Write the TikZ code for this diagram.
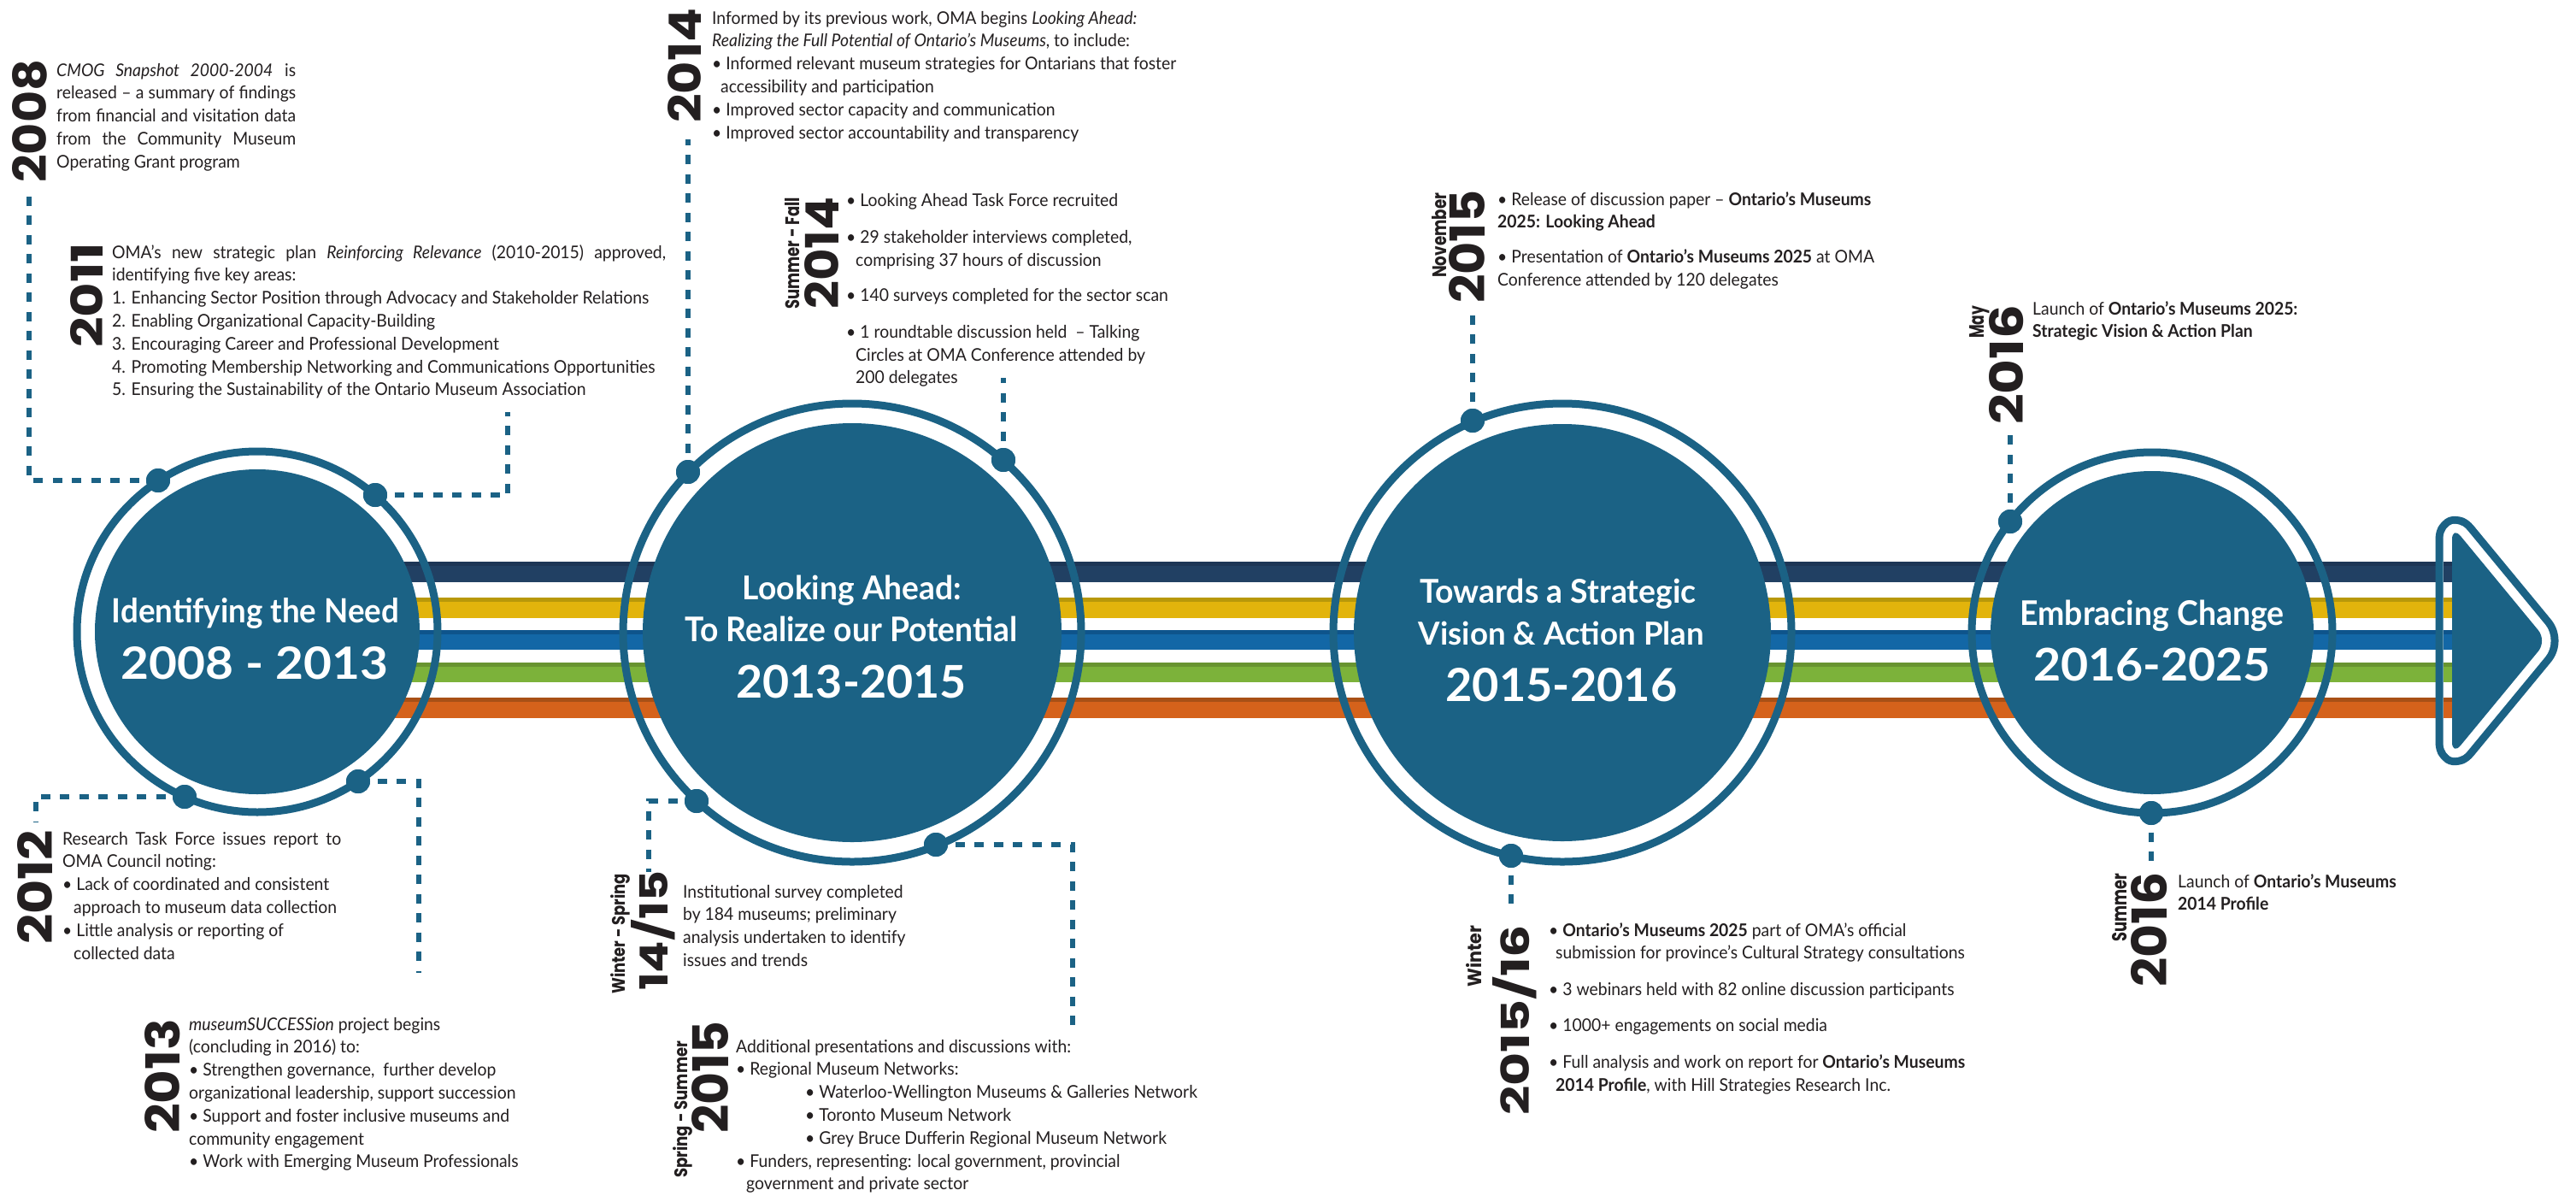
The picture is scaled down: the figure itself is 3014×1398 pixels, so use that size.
\documentclass[tikz,border=0pt]{standalone}
\usepackage{fontspec}
\usepackage{graphicx}
\setmainfont{Lato}[FakeStretch=0.945]
\newfontfamily\yearfont{Poppins}
\newfontfamily\titlefont{Lato}
\definecolor{cblue}{RGB}{27,98,133}
\definecolor{ctext}{RGB}{35,31,32}
\definecolor{navyT}{RGB}{29,54,86}
\definecolor{navyM}{RGB}{33,64,99}
\definecolor{yelT}{RGB}{184,152,10}
\definecolor{yelM}{RGB}{226,180,12}
\definecolor{bluT}{RGB}{14,84,140}
\definecolor{bluM}{RGB}{19,103,166}
\definecolor{grnT}{RGB}{104,148,48}
\definecolor{grnM}{RGB}{124,178,58}
\definecolor{orgT}{RGB}{168,80,22}
\definecolor{orgM}{RGB}{213,98,27}
\newcommand{\tb}[1]{\begin{tabular}[t]{@{}l@{}}#1\end{tabular}}
\newcommand{\yr}[3]{\resizebox{#1pt}{#2pt}{\yearfont\bfseries #3}}
\newcommand{\ttl}[3]{\resizebox{#1pt}{#2pt}{\titlefont\bfseries #3}}
\newcommand{\bul}{\textbullet\ }
\newcommand{\stripeset}[2]{%
  \fill[navyM] (#1,657) rectangle (#2,681);
  \fill[navyT] (#1,657) rectangle (#2,662);
  \fill[yelM] (#1,699) rectangle (#2,723);
  \fill[yelT] (#1,699) rectangle (#2,704);
  \fill[bluM] (#1,737) rectangle (#2,760);
  \fill[bluT] (#1,737) rectangle (#2,742);
  \fill[grnM] (#1,775) rectangle (#2,798);
  \fill[grnT] (#1,775) rectangle (#2,780);
  \fill[orgM] (#1,816) rectangle (#2,840);
  \fill[orgT] (#1,816) rectangle (#2,821);}
\tikzset{
  ring/.style={draw=cblue, line width=9pt},
  disk/.style={circle, fill=cblue, inner sep=0pt},
  dot/.style={circle, fill=cblue, minimum size=28pt, inner sep=0pt},
  dotline/.style={draw=cblue, line width=6.5pt, dash pattern=on 11pt off 11.5pt},
  body/.style={anchor=base west, inner sep=0pt, text=ctext, font=\fontsize{20.5}{26.8}\selectfont},
  yrnode/.style={rotate=90, anchor=south west, inner sep=0pt, text=ctext},
  lab/.style={rotate=90, anchor=base west, inner sep=0pt, text=ctext},
  ttlnode/.style={anchor=base, inner sep=0pt, text=white},
  tri/.style={rounded corners=16pt, line join=round},
}
\begin{document}
\begin{tikzpicture}[x=1pt,y=-1pt]
\useasboundingbox (0,0) rectangle (3014,1398);
\fill[white] (0,0) rectangle (3014,1398);

% stripes
\stripeset{420}{2876}

% arrow head
\draw[tri, cblue, line width=39pt] (2869,615) -- (2980,749.5) -- (2869,884) -- cycle;
\draw[tri, white, line width=21pt] (2869,615) -- (2980,749.5) -- (2869,884) -- cycle;
\stripeset{2858.5}{2880}
\fill[tri, cblue] (2869,615) -- (2980,749.5) -- (2869,884) -- cycle;

% circles
\node[disk, minimum size=380pt] (c1) at (301,739) {};
\node[disk, minimum size=490pt] (c2) at (997,740) {};
\node[disk, minimum size=488pt] (c3) at (1828,740) {};
\node[disk, minimum size=378pt] (c4) at (2518,740) {};
\draw[ring] (c1.center) circle[radius=211pt];
\draw[ring] (c2.center) circle[radius=268pt];
\draw[ring] (c3.center) circle[radius=268pt];
\draw[ring] (c4.center) circle[radius=211pt];

% titles
\node[ttlnode] (t1a) at (299,728) {\ttl{336}{29}{Identifying the Need}};
\node[ttlnode] (t1b) at (298,794) {\ttl{312}{38}{2008 - 2013}};
\node[ttlnode] (t2a) at (997,701.5) {\ttl{256}{28.5}{Looking Ahead:}};
\node[ttlnode] (t2b) at (996,750) {\ttl{389}{29.5}{To Realize our Potential}};
\node[ttlnode] (t2c) at (996,816.5) {\ttl{269}{38.5}{2013-2015}};
\node[ttlnode] (t3a) at (1823,705.5) {\ttl{323}{28.5}{Towards a Strategic}};
\node[ttlnode] (t3b) at (1827,754) {\ttl{334}{27.5}{Vision \& Action Plan}};
\node[ttlnode] (t3c) at (1827,820) {\ttl{271}{39}{2015-2016}};
\node[ttlnode] (t4a) at (2518,731) {\ttl{309}{29.5}{Embracing Change}};
\node[ttlnode] (t4b) at (2518,796.5) {\ttl{278}{38.5}{2016-2025}};

% free ends of connectors
\coordinate (e2008) at (34,222);
\coordinate (e2011) at (594,482);
\coordinate (e2012) at (42,962);
\coordinate (e2013) at (490,1138);
\coordinate (e2014) at (805,163);
\coordinate (e2014b) at (1174,442);
\coordinate (e1415) at (759,1020);
\coordinate (e2015) at (1255,1203);
\coordinate (eNov) at (1723,359);
\coordinate (eW16) at (1768,1065);
\coordinate (eMay) at (2352,504);
\coordinate (eSum) at (2517,1008);

% dots
\node[dot] (d2008) at (185,562) {};
\node[dot] (d2011) at (439,579) {};
\node[dot] (d2012) at (216,932) {};
\node[dot] (d2013) at (419,914) {};
\node[dot] (d2014) at (805,552) {};
\node[dot] (d2014b) at (1174,538) {};
\node[dot] (d1415) at (815,937) {};
\node[dot] (d2015) at (1095,988) {};
\node[dot] (dNov) at (1723,492) {};
\node[dot] (dW16) at (1768,1001) {};
\node[dot] (dMay) at (2352,610) {};
\node[dot] (dSum) at (2517,951) {};

% connectors
\draw[dotline] (d2008.center) -| (e2008);
\draw[dotline] (d2011.center) -| (e2011);
\draw[dotline] (d2012.center) -| (e2012);
\draw[dotline] (d2013.center) -| (e2013);
\draw[dotline] (d2014.center) -- (e2014);
\draw[dotline] (d2014b.center) -- (e2014b);
\draw[dotline] (d1415.center) -| (e1415);
\draw[dotline] (d2015.center) -| (e2015);
\draw[dotline] (dNov.center) -- (eNov);
\draw[dotline] (dW16.center) -- (eW16);
\draw[dotline] (dMay.center) -- (eMay);
\draw[dotline] (dSum.center) -- (eSum);
\foreach \d in {d2008,d2011,d2012,d2013,d2014,d2014b,d1415,d2015,dNov,dW16,dMay,dSum}
  \fill[cblue] (\d) circle[radius=14pt];

% years
\node[yrnode] (y2008) at (55,214) {\yr{144}{40}{2008}};
\node[yrnode] (y2011) at (121,407) {\yr{123}{38}{2011}};
\node[yrnode] (y2012) at (62,1105) {\yr{134}{41}{2012}};
\node[yrnode] (y2013) at (211,1326) {\yr{134}{41}{2013}};
\node[yrnode] (y2014) at (821,144) {\yr{134}{39}{2014}};
\node[yrnode] (y2014b) at (982,362) {\yr{131}{40}{2014}};
\node[lab] (y1415) at (781,1159) {\yr{140}{43}{14/15}};
\node[yrnode] (y2015) at (853,1326) {\yr{131}{43}{2015}};
\node[yrnode] (yNov) at (1738,355) {\yr{132}{42}{2015}};
\node[lab] (yW16) at (1789,1305) {\yr{223}{43}{2015/16}};
\node[yrnode] (yMay) at (2368,497) {\yr{140}{40}{2016}};
\node[yrnode] (ySum) at (2536,1155) {\yr{134}{42}{2016}};

% small labels
\node[lab] (l2014b) at (935,362) {\yr{131}{17}{Summer - Fall}};
\node[lab] (l1415) at (731,1163) {\yr{141}{17}{Winter - Spring}};
\node[lab] (l2015) at (804,1378) {\yr{160}{17}{Spring - Summer}};
\node[lab] (lNov) at (1692,325) {\yr{99}{17}{November}};
\node[lab] (lW16) at (1733,1155) {\yr{72}{18}{Winter}};
\node[lab] (lMay) at (2321,396) {\yr{38}{17}{May}};
\node[lab] (lSum) at (2488,1102) {\yr{80}{17}{Summer}};

% text blocks
\node[body] (b2008) at (66,89) {\tb{%
\makebox[280pt][s]{\textit{CMOG Snapshot 2000-2004} is}\\
\makebox[280pt][s]{released – a summary of findings}\\
\makebox[280pt][s]{from financial and visitation data}\\
\makebox[280pt][s]{from the Community Museum}\\
Operating Grant program}};

\node[body] (b2011) at (131,302) {\tb{%
\makebox[648pt][s]{OMA’s new strategic plan \textit{Reinforcing Relevance} (2010-2015) approved,}\\
identifying five key areas:\\
1. Enhancing Sector Position through Advocacy and Stakeholder Relations\\
2. Enabling Organizational Capacity-Building\\
3. Encouraging Career and Professional Development\\
4. Promoting Membership Networking and Communications Opportunities\\
5. Ensuring the Sustainability of the Ontario Museum Association}};

\node[body] (b2012) at (73,988) {\tb{%
\makebox[326pt][s]{Research Task Force issues report to}\\
OMA Council noting:\\
\bul Lack of coordinated and consistent\\
\hspace*{13pt}approach to museum data collection\\
\bul Little analysis or reporting of\\
\hspace*{13pt}collected data}};

\node[body] (b2013) at (221,1205) {\tb{%
\textit{museumSUCCESSion} project begins\\
(concluding in 2016) to:\\
\bul Strengthen governance,\ \ further develop\\
organizational leadership, support succession\\
\bul Support and foster inclusive museums and\\
community engagement\\
\bul Work with Emerging Museum Professionals}};

\node[body] (b2014) at (833,28) {\tb{%
Informed by its previous work, OMA begins \textit{Looking Ahead:}\\
\textit{Realizing the Full Potential of Ontario’s Museums}, to include:\\
\bul Informed relevant museum strategies for Ontarians that foster\\
\hspace*{10pt}accessibility and participation\\
\bul Improved sector capacity and communication\\
\bul Improved sector accountability and transparency}};

\node[body] (b2014b) at (990,241) {\tb{%
\bul Looking Ahead Task Force recruited\\[17pt]
\bul 29 stakeholder interviews completed,\\
\hspace*{11pt}comprising 37 hours of discussion\\[14pt]
\bul 140 surveys completed for the sector scan\\[16pt]
\bul 1 roundtable discussion held\ \ – Talking\\
\hspace*{11pt}Circles at OMA Conference attended by\\
\hspace*{11pt}200 delegates}};

\node[body] (b1415) at (799,1050) {\tb{%
Institutional survey completed\\
by 184 museums; preliminary\\
analysis undertaken to identify\\
issues and trends}};

\node[body] (b2015) at (861,1231) {\tb{%
Additional presentations and discussions with:\\
\bul Regional Museum Networks:\\
\hspace*{81pt}\bul Waterloo-Wellington Museums \& Galleries Network\\
\hspace*{81pt}\bul Toronto Museum Network\\
\hspace*{81pt}\bul Grey Bruce Dufferin Regional Museum Network\\
\bul Funders, representing: local government, provincial\\
\hspace*{12pt}government and private sector}};

\node[body] (bNov) at (1752,240) {\tb{%
\bul Release of discussion paper – \textbf{Ontario’s Museums}\\
\textbf{2025: Looking Ahead}\\[14pt]
\bul Presentation of \textbf{Ontario’s Museums 2025} at OMA\\
Conference attended by 120 delegates}};

\node[body] (bMay) at (2378,368) {\tb{%
Launch of \textbf{Ontario’s Museums 2025:}\\
\textbf{Strategic Vision \& Action Plan}}};

\node[body] (bW16) at (1812,1095) {\tb{%
\bul \textbf{Ontario’s Museums 2025} part of OMA’s official\\
\hspace*{8pt}submission for province’s Cultural Strategy consultations\\[16pt]
\bul 3 webinars held with 82 online discussion participants\\[15pt]
\bul 1000+ engagements on social media\\[16pt]
\bul Full analysis and work on report for \textbf{Ontario’s Museums}\\
\hspace*{8pt}\textbf{2014 Profile}, with Hill Strategies Research Inc.}};

\node[body] (bSum) at (2548,1038) {\tb{%
Launch of \textbf{Ontario’s Museums}\\
\textbf{2014 Profile}}};
\end{tikzpicture}
\end{document}
